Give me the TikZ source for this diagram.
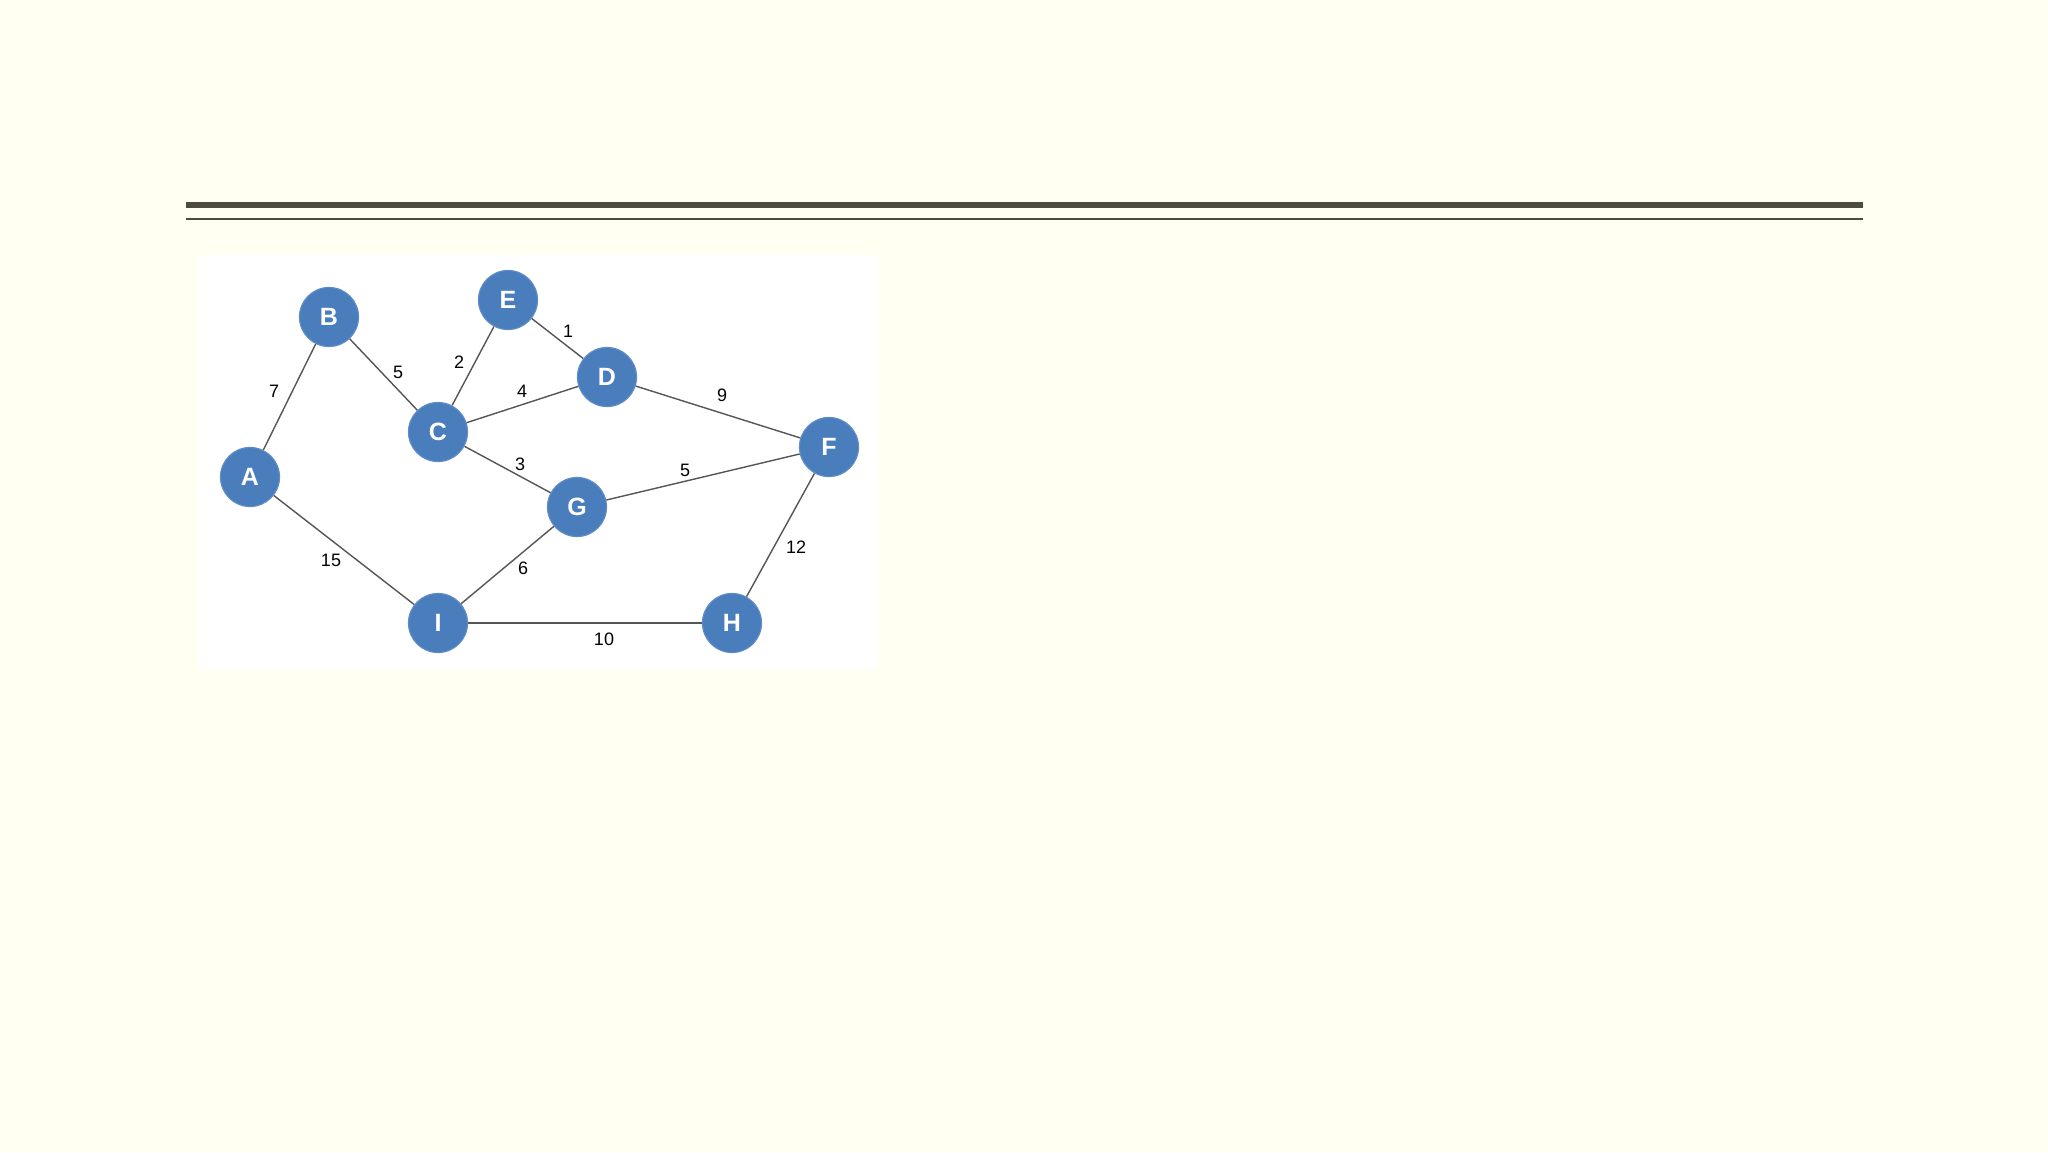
\documentclass[tikz,border=0pt]{standalone}
\usepackage{fontspec}
\setmainfont{Liberation Sans}
\definecolor{bgcol}{RGB}{255,255,242}
\definecolor{barcol}{RGB}{77,74,62}
\definecolor{nodefill}{RGB}{74,125,187}
\definecolor{nodeedge}{RGB}{95,140,200}
\definecolor{edgecol}{RGB}{85,85,85}
\tikzset{
  vtx/.style={circle, fill=nodefill, draw=nodeedge, line width=0.6pt, minimum size=29.5pt, inner sep=0pt, text=white, font=\fontsize{12.5}{14}\selectfont\bfseries},
  wlabel/.style={inner sep=0pt, text=black, font=\fontsize{9}{10}\selectfont},
  link/.style={draw=edgecol, line width=0.7pt}
}
\begin{document}
\begin{tikzpicture}[x=0.5pt, y=-0.5pt]
\useasboundingbox (0,0) rectangle (2048,1152);
\fill[bgcol] (0,0) rectangle (2048,1152);
% title rules
\fill[barcol] (185.5,202) rectangle (1862.5,208);
\fill[barcol] (185.5,217.5) rectangle (1862.5,220);
% image panel
\fill[white] (198,255) rectangle (878,669);
% vertices
\node[vtx] (B) at (329,317) {B};
\node[vtx] (E) at (508,300) {E};
\node[vtx] (D) at (607,377) {D};
\node[vtx] (C) at (438,432) {C};
\node[vtx] (F) at (829,447) {F};
\node[vtx] (A) at (250,477) {A};
\node[vtx] (G) at (577,507) {G};
\node[vtx] (I) at (438,623) {I};
\node[vtx] (H) at (732,623) {H};
% edges
\draw[link] (A) -- (B);
\draw[link] (B) -- (C);
\draw[link] (C) -- (E);
\draw[link] (E) -- (D);
\draw[link] (C) -- (D);
\draw[link] (D) -- (F);
\draw[link] (C) -- (G);
\draw[link] (G) -- (F);
\draw[link] (A) -- (I);
\draw[link] (I) -- (G);
\draw[link] (F) -- (H);
\draw[link, line width=1pt] (I) -- (H);
% weights
\node[wlabel] (wED) at (568,331) {1};
\node[wlabel] (wCE) at (459,362) {2};
\node[wlabel] (wBC) at (398,372) {5};
\node[wlabel] (wAB) at (274,391) {7};
\node[wlabel] (wCD) at (522,391) {4};
\node[wlabel] (wDF) at (722,395) {9};
\node[wlabel] (wCG) at (520,464) {3};
\node[wlabel] (wGF) at (685,470) {5};
\node[wlabel] (wAI) at (331,560) {15};
\node[wlabel] (wIG) at (523,568) {6};
\node[wlabel] (wFH) at (796,547) {12};
\node[wlabel] (wIH) at (604,639) {10};
\end{tikzpicture}
\end{document}
